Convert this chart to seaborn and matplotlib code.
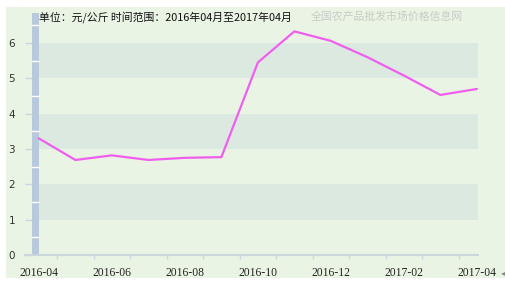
import numpy as np
import pandas as pd
import matplotlib
matplotlib.use("Agg")
import matplotlib.pyplot as plt
from matplotlib.patches import Rectangle
import seaborn as sns

months = ["2016-04", "2016-05", "2016-06", "2016-07", "2016-08", "2016-09", "2016-10",
          "2016-11", "2016-12", "2017-01", "2017-02", "2017-03", "2017-04"]
prices = [3.30, 2.69, 2.82, 2.69, 2.75, 2.77, 5.45, 6.33, 6.06, 5.60, 5.08, 4.53, 4.70]
y_ticks = [0, 1, 2, 3, 4, 5, 6]
title_text = "单位：元/公斤 时间范围：2016年04月至2017年04月"
watermark = "全国农产品批发市场价格信息网"

sns.set_theme(style="white")
plt.rcParams['font.family'] = ['Noto Sans CJK SC', 'DejaVu Sans']

W, H = 505, 285
fig = plt.figure(figsize=(W / 100, H / 100), dpi=100)
fig.patch.set_facecolor("white")
fig.patches.append(Rectangle((6 / W, 7 / H), (W - 6) / W, (278 - 7) / H,
                             transform=fig.transFigure, facecolor="#EAF4E4",
                             edgecolor="none", zorder=-10))

ax = fig.add_axes([25 / W, (H - 255) / H, (478 - 25) / W, (255 - 13) / H])
ax.set_facecolor("none")
ax.set_zorder(1)

df = pd.DataFrame({"idx": np.arange(len(months)), "month": months, "price": prices})

# bands
for lo in (1, 3, 5):
    ax.axhspan(lo, lo + 1, xmin=(0 + 0.38) / 12.41, xmax=1, color="#DCE9E1", lw=0, zorder=0)

# side bar
ax.axvspan(-0.19, 0, color="#B9C9DC", lw=0, zorder=1)
for yv in np.arange(0.5, 6.9, 0.5):
    if yv % 1 != 0:
        ax.plot([-0.19, 0], [yv, yv], color="white", lw=1, zorder=2)

sns.lineplot(data=df, x="idx", y="price", ax=ax, color="#F05EEE", lw=1.6, zorder=3)

ax.set_xlim(-0.38, 12.03)
ax.set_ylim(0, (255 - 13) / 35.33)

for s in ("top", "right", "left"):
    ax.spines[s].set_visible(False)
ax.spines["bottom"].set_color("#C9D6DE")
ax.spines["bottom"].set_linewidth(1.5)

ax.set_yticks(y_ticks)
ax.set_yticklabels([str(v) for v in y_ticks], fontsize=7.5, color="#333333",
                   family="DejaVu Sans")
ax.tick_params(axis="y", direction="in", length=5, width=1, color="#C9D6DE", pad=7, left=True)

ax.set_xticks(df["idx"][::2])
ax.set_xticklabels(df["month"][::2], fontsize=8.4, color="#222222", family="Liberation Serif")
ax.set_xticks(np.arange(0.5, 12, 1), minor=True)
ax.tick_params(axis="x", which="major", length=0, pad=8.5, bottom=True)
ax.tick_params(axis="x", which="minor", length=3, width=1, color="#C9D6DE", bottom=True)
ax.set_xlabel("")
ax.set_ylabel("")

fig.text(39 / W, 1 - 17 / H, title_text, fontsize=7.8, color="#111111", va="center", ha="left")
fig.text(311 / W, 1 - 17 / H, watermark, fontsize=7.8, color="#C6CCC6", va="center", ha="left")
fig.text(503 / W, 1 - 273 / H, "◂", fontsize=6, color="#888888", va="center", ha="center",
         family="DejaVu Sans")

fig.savefig("out.png", dpi=100)
